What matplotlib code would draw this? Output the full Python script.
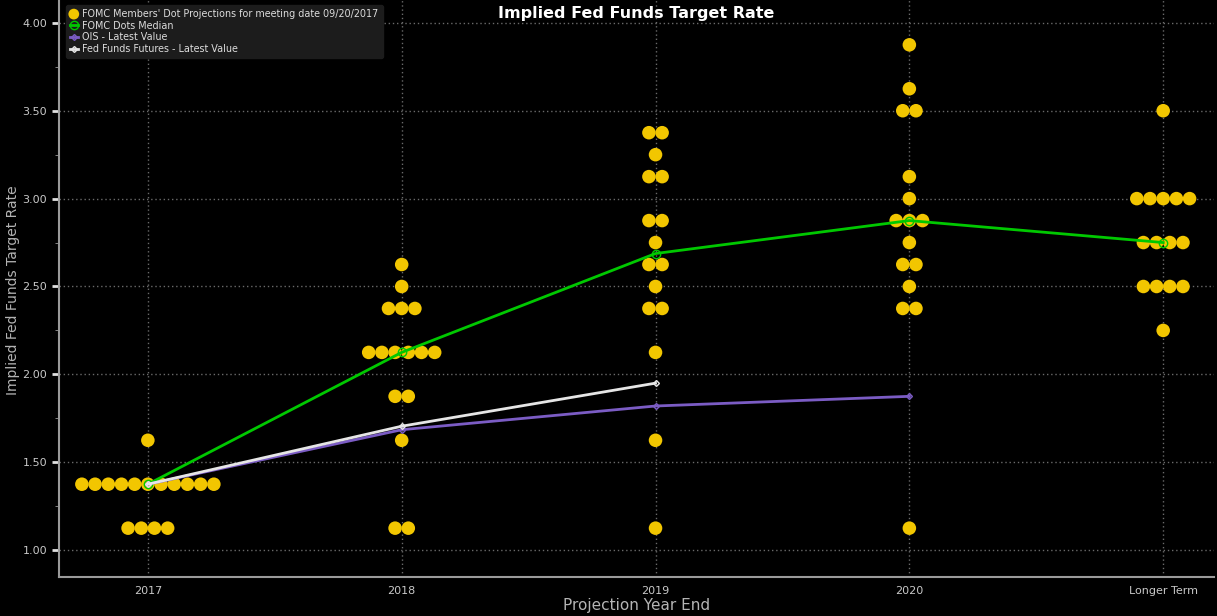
# Implied Fed Funds target rate: FOMC dot plot vs. market pricing

import matplotlib.pyplot as plt
from matplotlib.ticker import MultipleLocator
from collections import Counter

categories = ['2017', '2018', '2019', '2020', 'Longer Term']

# FOMC members' dots, one value per participant
dots_2017 = [1.625] + [1.375] * 11 + [1.125] * 4
dots_2018 = [2.625, 2.5] + [2.375] * 3 + [2.125] * 6 + [1.875] * 2 + [1.625] + [1.125] * 2
dots_2019 = [3.375] * 2 + [3.25] + [3.125] * 2 + [2.875] * 2 + [2.75] + [2.625] * 2 + [2.5] \
    + [2.375] * 2 + [2.125, 1.625, 1.125]
dots_2020 = [3.875, 3.625] + [3.5] * 2 + [3.125, 3.0] + [2.875] * 3 + [2.75] + [2.625] * 2 \
    + [2.5] + [2.375] * 2 + [1.125]
dots_longer = [3.5] + [3.0] * 5 + [2.75] * 4 + [2.5] * 4 + [2.25]
all_dots = [dots_2017, dots_2018, dots_2019, dots_2020, dots_longer]

median = [1.375, 2.125, 2.6875, 2.875, 2.75]
ois = [1.375, 1.685, 1.82, 1.875]
ff_futures = [1.375, 1.705, 1.95]

bg = 'black'
fg = '#c8c8c8'

fig = plt.figure(figsize=(12.17, 6.16), dpi=100, facecolor=bg)
ax = fig.add_axes([0.0485, 0.063, 0.949, 0.937], facecolor=bg)

# spread equal values side by side
spacing = 0.052
xs, ys = [], []
for i, dots in enumerate(all_dots):
    for rate, n in Counter(dots).items():
        for k in range(n):
            xs.append(i + (k - (n - 1) / 2) * spacing)
            ys.append(rate)

ax.scatter(xs, ys, s=95, color='#f2c600', edgecolors='none', zorder=3,
           label="FOMC Members' Dot Projections for meeting date 09/20/2017")
ax.plot(range(len(median)), median, color='#00c800', lw=2, marker='o', ms=6,
        mfc='none', mec='#00c800', zorder=4, label='FOMC Dots Median')
ax.plot(range(len(ois)), ois, color='#7b5cc4', lw=2, marker='D', ms=3,
        mfc='none', mec='#7b5cc4', zorder=4, label='OIS - Latest Value')
ax.plot(range(len(ff_futures)), ff_futures, color='#e6e6e6', lw=2, marker='D', ms=3,
        mfc='none', mec='#e6e6e6', zorder=5, label='Fed Funds Futures - Latest Value')

ax.set_xlim(-0.35, 4.2)
ax.set_ylim(0.846, 4.13)
ax.set_xticks(range(len(categories)))
ax.set_xticklabels(categories)
ax.yaxis.set_major_locator(MultipleLocator(0.5))
ax.yaxis.set_minor_locator(MultipleLocator(0.25))
ax.yaxis.set_major_formatter(lambda v, p: f'{v:.2f}')

ax.grid(True, which='major', color='#6a6a6a', ls=(0, (1, 2)), lw=1)
for s in ['top', 'right']:
    ax.spines[s].set_visible(False)
for s in ['left', 'bottom']:
    ax.spines[s].set_color('#9a9a9a')
    ax.spines[s].set_linewidth(1.5)
ax.tick_params(colors=fg, labelsize=8)
ax.tick_params(axis='y', which='major', length=5, width=2, color='#e0e0e0')
ax.tick_params(axis='y', which='minor', length=3, color='#9a9a9a')
ax.tick_params(axis='x', length=0, pad=6)

fig.text(13 / 1217, 1 - 290 / 616, 'Implied Fed Funds Target Rate', rotation=90,
         ha='center', va='center', color='#b4b4b4', fontsize=10)
ax.set_xlabel('Projection Year End', color='#b4b4b4', fontsize=11, labelpad=2)
ax.text(0.5, 0.99, 'Implied Fed Funds Target Rate', transform=ax.transAxes,
        ha='center', va='top', color='white', fontsize=11.5, fontweight='bold')

leg = ax.legend(loc='upper left', bbox_to_anchor=(0.002, 1.0), fontsize=6.9,
                facecolor='#1c1c1c', edgecolor='#1c1c1c', labelcolor='#dcdcdc',
                handlelength=0.8, handletextpad=0.5, borderpad=0.4, labelspacing=0.2,
                framealpha=1)
leg.legend_handles[0].set_sizes([60])

plt.savefig('out.png', dpi=100, facecolor=bg)
